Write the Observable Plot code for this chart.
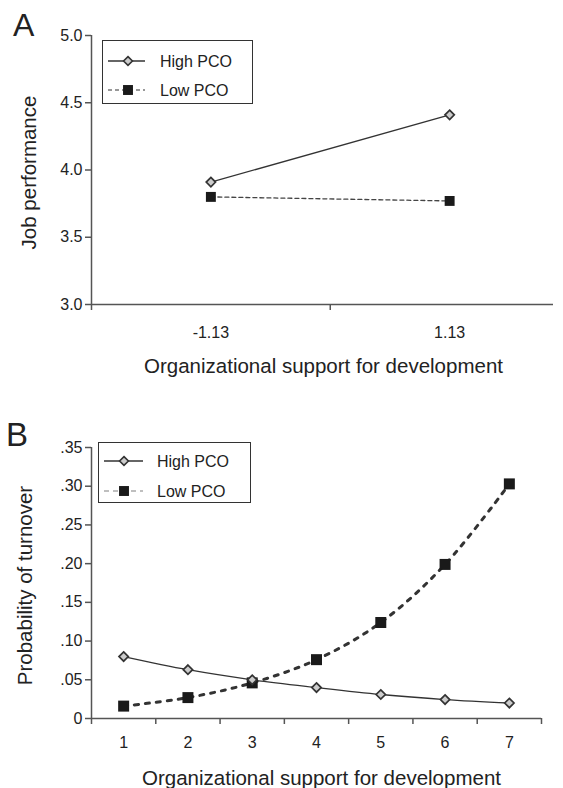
<!DOCTYPE html>
<html>
<head>
<meta charset="utf-8">
<script src="https://cdn.jsdelivr.net/npm/d3@7"></script>
<script src="https://cdn.jsdelivr.net/npm/@observablehq/plot@0.6"></script>
<style>
  html, body { margin: 0; padding: 0; background: #fff; }
  #root { position: relative; width: 563px; height: 788px; overflow: hidden; font-family: "Liberation Sans", Arial, sans-serif; color: #222; }
  #root svg { display: block; }
  .panel-letter { position: absolute; line-height: 1; color: #222; }
  .legend { position: absolute; box-sizing: border-box; border: 1.3px solid #333; background: #fff; }
</style>
</head>
<body>
<div id="root"></div>
<script>
// ---------------- Data ----------------
// Panel A
const catsA = ["-1.13", "1.13"];
const highA = [3.91, 4.41];
const lowA = [3.80, 3.77];
const yTicksA = [3.0, 3.5, 4.0, 4.5, 5.0];

// Panel B
const catsB = [1, 2, 3, 4, 5, 6, 7];
const highB = [0.080, 0.063, 0.050, 0.040, 0.031, 0.0245, 0.020];
const lowB = [0.016, 0.027, 0.046, 0.076, 0.124, 0.199, 0.303];
const yTicksB = [0, 0.05, 0.10, 0.15, 0.20, 0.25, 0.30, 0.35];
const yTickLabelsB = ["0", ".05", ".10", ".15", ".20", ".25", ".30", ".35"];

const seriesNames = ["High PCO", "Low PCO"];
const xTitle = "Organizational support for development";
const yTitleA = "Job performance";
const yTitleB = "Probability of turnover";

// ---------------- Helpers ----------------
const FONT = "'Liberation Sans', Arial, sans-serif";
const AX = "#555";
const rowsA = catsA.map((c, i) => ({cat: c, pos: i + 0.5, high: highA[i], low: lowA[i]}));
const rowsB = catsB.map((c, i) => ({cat: c, pos: i + 0.5, high: highB[i], low: lowB[i]}));

const root = document.getElementById("root");

// ---------------- Panel A ----------------
const plotA = Plot.plot({
  width: 563, height: 394,
  marginTop: 35, marginBottom: 90, marginLeft: 91, marginRight: 10,
  style: {fontFamily: FONT, fontSize: "16px", color: "#222", background: "transparent"},
  x: {domain: [0, 1.935], axis: null},
  y: {domain: [3, 5], axis: null},
  marks: [
    Plot.axisY(yTicksA, {tickSize: 6, tickPadding: 3, tickFormat: d => d.toFixed(1), stroke: AX, strokeWidth: 1.5, fill: "#222", fontSize: 16, label: null}),
    Plot.axisX([0, 1], {tickSize: 6, tickFormat: () => "", stroke: AX, strokeWidth: 1.5, label: null}),
    Plot.axisX(rowsA.map(d => d.pos), {tickSize: 0, tickPadding: 22, tickFormat: d => catsA[Math.floor(d)], fill: "#222", fontSize: 16, label: null}),
    Plot.ruleY([3], {stroke: AX, strokeWidth: 1.5}),
    Plot.ruleX([0], {y1: 3, y2: 5, stroke: AX, strokeWidth: 1.5}),
    Plot.line(rowsA, {x: "pos", y: "low", stroke: "#444", strokeWidth: 1.3, strokeDasharray: "4,3"}),
    Plot.line(rowsA, {x: "pos", y: "high", stroke: "#333", strokeWidth: 1.3}),
    Plot.dot(rowsA, {x: "pos", y: "low", symbol: "square", r: 5.6, fill: "#1a1a1a", stroke: "none"}),
    Plot.dot(rowsA, {x: "pos", y: "high", symbol: "diamond2", r: 4.2, fill: "#ccc", stroke: "#333", strokeWidth: 1.7}),
    Plot.text([xTitle], {text: d => d, frameAnchor: "bottom", dy: 61.5, dx: 1, fontSize: 20.5, fill: "#222", lineAnchor: "middle", textAnchor: "middle"}),
    Plot.text([yTitleA], {text: d => d, frameAnchor: "left", rotate: -90, dx: -62, dy: 2.5, fontSize: 20.5, fill: "#222", lineAnchor: "middle", textAnchor: "middle"})
  ]
});

// ---------------- Panel B ----------------
const plotB = Plot.plot({
  width: 563, height: 394,
  marginTop: 53, marginBottom: 70, marginLeft: 91, marginRight: 22,
  style: {fontFamily: FONT, fontSize: "16px", color: "#222", background: "transparent"},
  x: {domain: [0, catsB.length], axis: null},
  y: {domain: [0, 0.35], axis: null},
  marks: [
    Plot.axisY(yTicksB, {tickSize: 6, tickPadding: 3, tickFormat: d => yTickLabelsB[yTicksB.indexOf(d)], stroke: AX, strokeWidth: 1.5, fill: "#222", fontSize: 16, label: null}),
    Plot.axisX(d3.range(0, catsB.length + 1), {tickSize: 6, tickFormat: () => "", stroke: AX, strokeWidth: 1.5, label: null}),
    Plot.axisX(rowsB.map(d => d.pos), {tickSize: 0, tickPadding: 18, tickFormat: d => String(catsB[Math.floor(d)]), fill: "#222", fontSize: 16, label: null}),
    Plot.ruleY([0], {stroke: AX, strokeWidth: 1.5}),
    Plot.ruleX([0], {y1: 0, y2: 0.35, stroke: AX, strokeWidth: 1.5}),
    Plot.line(rowsB, {x: "pos", y: "low", stroke: "#333", strokeWidth: 3, strokeDasharray: "4,7", curve: "catmull-rom"}),
    Plot.line(rowsB, {x: "pos", y: "high", stroke: "#333", strokeWidth: 1.3, curve: "catmull-rom"}),
    Plot.dot(rowsB, {x: "pos", y: "low", symbol: "square", r: 6.2, fill: "#1a1a1a", stroke: "none"}),
    Plot.dot(rowsB, {x: "pos", y: "high", symbol: "diamond2", r: 4.2, fill: "#ccc", stroke: "#333", strokeWidth: 1.7}),
    Plot.text([xTitle], {text: d => d, frameAnchor: "bottom", dy: 59.5, dx: 5, fontSize: 20.5, fill: "#222", lineAnchor: "middle", textAnchor: "middle"}),
    Plot.text([yTitleB], {text: d => d, frameAnchor: "left", rotate: -90, dx: -66, dy: 2.5, fontSize: 20.5, fill: "#222", lineAnchor: "middle", textAnchor: "middle"})
  ]
});

root.appendChild(plotA);
root.appendChild(plotB);

// ---------------- Panel letters ----------------
function letter(t, left, top, size) {
  const d = document.createElement("div");
  d.className = "panel-letter";
  d.style.left = left + "px"; d.style.top = top + "px"; d.style.fontSize = size + "px";
  d.textContent = t;
  root.appendChild(d);
}
letter("A", 13, 9, 32);
letter("B", 6, 418, 33);

// ---------------- Legends ----------------
function legend(left, top, w, h, rowYs, lineX0, lineX1, markX, textX, lowDash, lowColor) {
  const d = document.createElement("div");
  d.className = "legend";
  d.style.left = left + "px"; d.style.top = top + "px";
  d.style.width = w + "px"; d.style.height = h + "px";
  const svg = d3.create("svg").attr("width", w - 2).attr("height", h - 2).style("position", "absolute").style("left", "0").style("top", "0");
  const y0 = rowYs[0] - 1, y1 = rowYs[1] - 1;
  // High row
  svg.append("line").attr("x1", lineX0).attr("x2", lineX1).attr("y1", y0).attr("y2", y0).attr("stroke", "#333").attr("stroke-width", 1.3);
  svg.append("path").attr("d", d3.symbol(d3.symbolDiamond2, Math.PI * 16)()).attr("transform", `translate(${markX},${y0})`).attr("fill", "#ccc").attr("stroke", "#333").attr("stroke-width", 1.6);
  svg.append("text").attr("x", textX).attr("y", y0).attr("dy", "0.35em").attr("font-size", 16).attr("font-family", FONT).attr("fill", "#222").text(seriesNames[0]);
  // Low row
  svg.append("line").attr("x1", lineX0).attr("x2", lineX1).attr("y1", y1).attr("y2", y1).attr("stroke", lowColor).attr("stroke-width", 1.5).attr("stroke-dasharray", lowDash);
  svg.append("path").attr("d", d3.symbol(d3.symbolSquare, Math.PI * 5.6 * 5.6)()).attr("transform", `translate(${markX},${y1})`).attr("fill", "#1a1a1a");
  svg.append("text").attr("x", textX).attr("y", y1).attr("dy", "0.35em").attr("font-size", 16).attr("font-family", FONT).attr("fill", "#222").text(seriesNames[1]);
  d.appendChild(svg.node());
  root.appendChild(d);
}
legend(102, 40, 151, 64, [21, 50], 5, 42, 25, 57, "4,3", "#777");
legend(98, 442, 153, 61, [19, 49], 5, 44, 25, 58, "5,4", "#aaa");
</script>
</body>
</html>
